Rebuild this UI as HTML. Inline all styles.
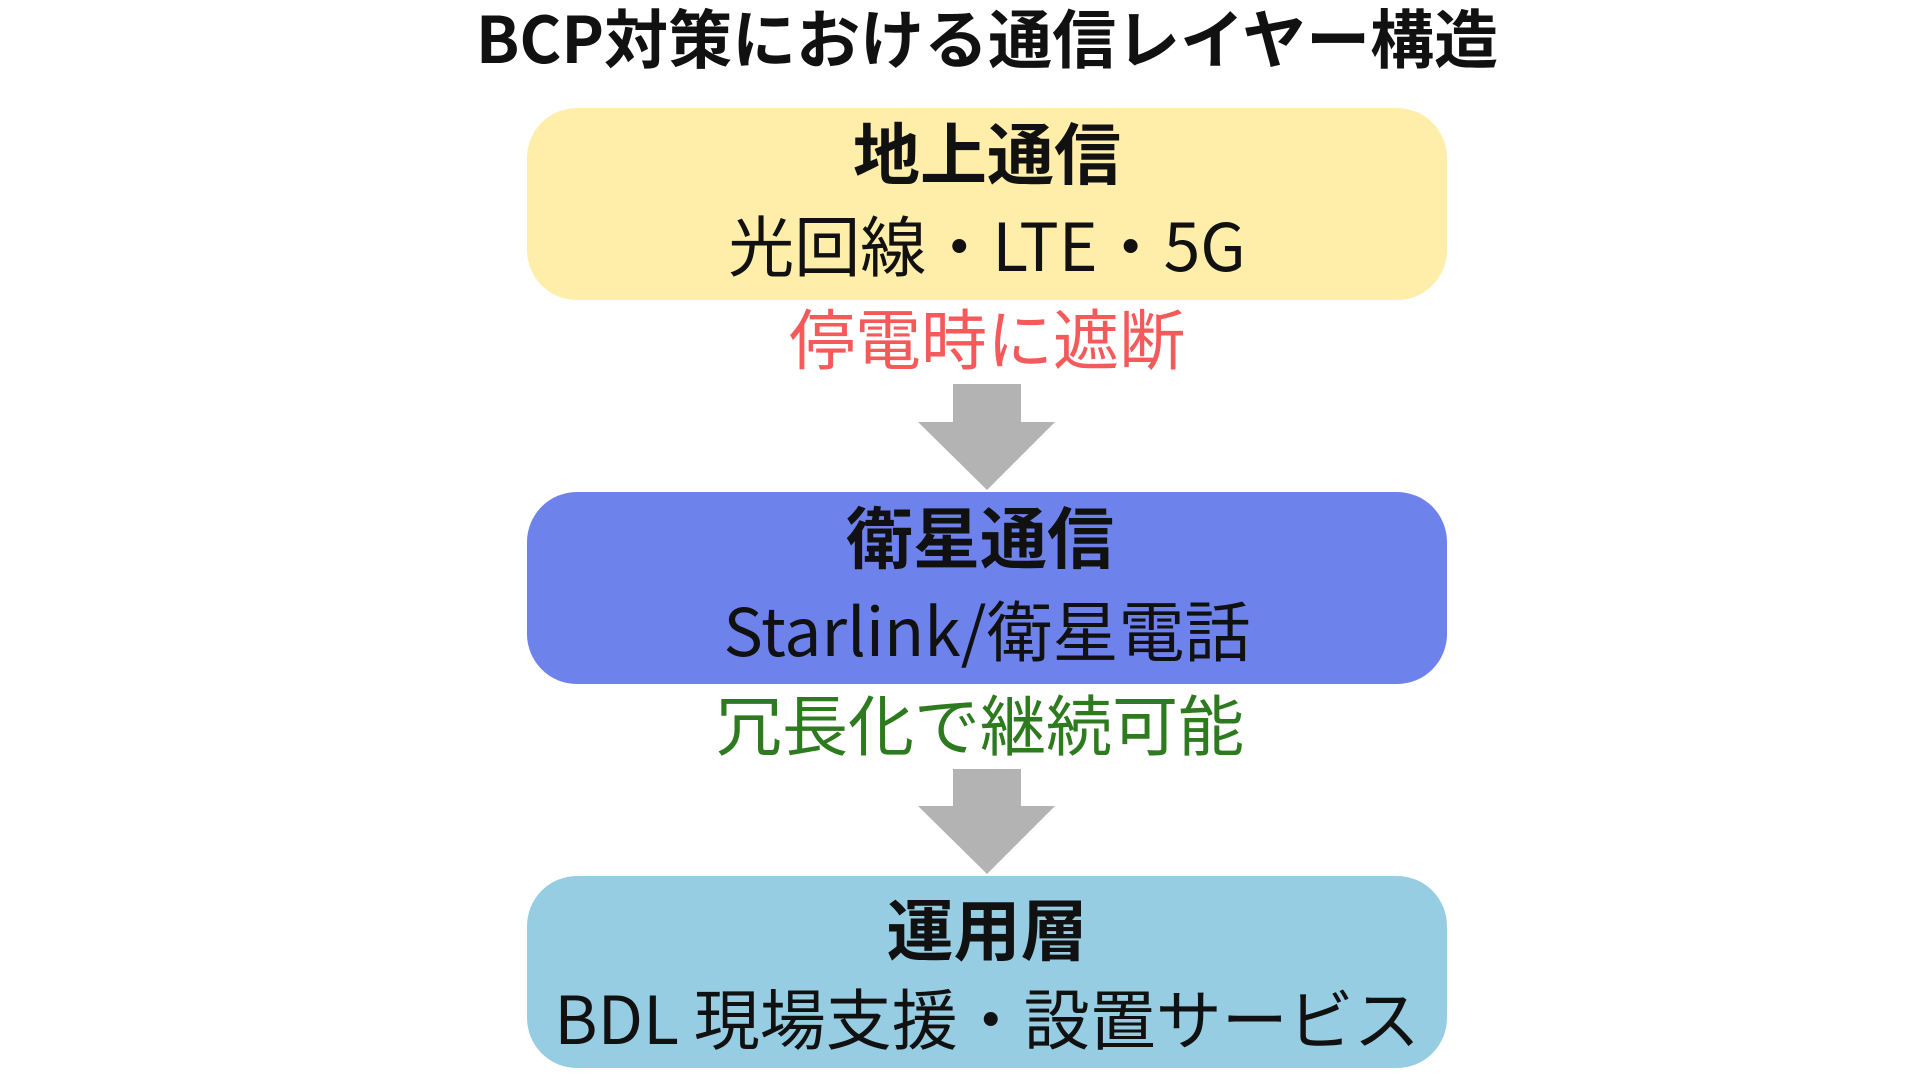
<!DOCTYPE html>
<html><head><meta charset="utf-8"><style>
body{margin:0;width:1920px;height:1080px;background:#fff;position:relative;overflow:hidden;font-family:"Noto Sans CJK JP","Liberation Sans",sans-serif;color:#111}
.t{position:absolute;left:27px;width:1920px;text-align:center;white-space:nowrap}
.box{position:absolute;left:527px;width:920px;height:192px;border-radius:50px}
.b{font-weight:bold;font-size:67px}
.n{font-size:66px}
</style></head><body>
<div class="t b" style="top:0px;height:72px;line-height:72px;font-size:64px">BCP対策における通信レイヤー構造</div>
<div class="box" style="top:108px;background:#ffeeaa"></div>
<div class="box" style="top:492px;background:#6d82ea"></div>
<div class="box" style="top:876px;background:#97cde2"></div>
<div class="t b" style="top:111px;height:80px;line-height:80px">地上通信</div>
<div class="t n" style="top:203px;height:80px;line-height:80px">光回線・LTE・5G</div>
<div class="t n" style="top:296px;height:80px;line-height:80px;color:#f55a5a">停電時に遮断</div>
<div class="t b" style="top:495px;height:80px;line-height:80px;left:20px">衛星通信</div>
<div class="t n" style="top:588px;height:80px;line-height:80px">Starlink/衛星電話</div>
<div class="t n" style="top:682px;height:80px;line-height:80px;color:#2e7a1e;left:20px">冗長化で継続可能</div>
<div class="t b" style="top:887px;height:80px;line-height:80px">運用層</div>
<div class="t n" style="top:976px;height:80px;line-height:80px">BDL 現場支援・設置サービス</div>
<svg style="position:absolute;left:0;top:0" width="1920" height="1080">
<polygon fill="#b3b3b3" points="953,384 1021,384 1021,422 1055,422 987,490 918,422 953,422"/>
<polygon fill="#b3b3b3" points="953,769 1021,769 1021,806 1055,806 987,874 918,806 953,806"/>
</svg>
</body></html>
